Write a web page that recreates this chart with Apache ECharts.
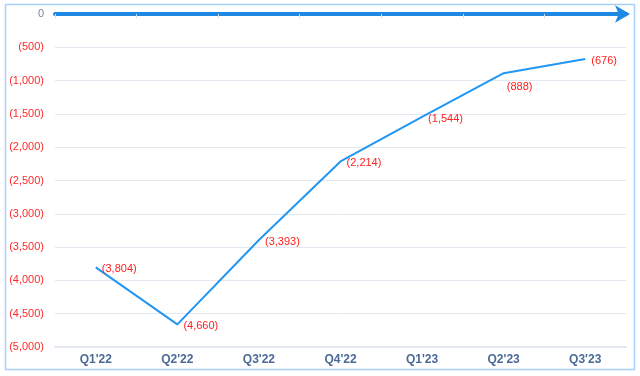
<!DOCTYPE html>
<html><head><meta charset="utf-8">
<script src="https://cdn.jsdelivr.net/npm/echarts@6/dist/echarts.min.js"></script>
<style>html,body{margin:0;padding:0;background:#fff}#c{width:640px;height:376px}</style>
</head><body><div id="c"></div>
<script>
const categories = ["Q1'22","Q2'22","Q3'22","Q4'22","Q1'23","Q2'23","Q3'23"];
const values = [-3804,-4660,-3393,-2214,-1544,-888,-676];
const yTicks = {min:-5000, max:0, interval:500};

function fmt(v){
  if (v === 0) return '0';
  const s = Math.abs(v).toLocaleString('en-US');
  return v < 0 ? '(' + s + ')' : s;
}
const chart = echarts.init(document.getElementById('c'), null, {renderer:'canvas'});
const font = '"Liberation Sans", Arial, sans-serif';
chart.setOption({
  animation:false,
  textStyle:{fontFamily:font},
  graphic:[{type:'rect', shape:{x:5.5,y:4.5,width:629,height:365}, style:{fill:'none', stroke:'#a6d0f5', lineWidth:1.5}, silent:true}],
  grid:{left:55, right:14, top:14, bottom:29},
  xAxis:[{
    type:'category', data:categories, position:'bottom',
    axisLine:{show:true, onZero:false, lineStyle:{color:'#e3e8f0', width:2}},
    axisTick:{show:false},
    axisLabel:{color:'#4b6a97', fontWeight:'bold', fontSize:12, margin:7, fontFamily:font}
  },{
    type:'category', data:categories, position:'top',
    axisLine:{show:true, onZero:false, symbol:['none','arrow'], symbolSize:[13,15], symbolOffset:[0,4], lineStyle:{color:'#1e88e5', width:4}},
    axisTick:{show:true, inside:true, length:4, lineStyle:{color:'#d5dde8'}},
    axisLabel:{show:false}
  }],
  yAxis:{
    type:'value', min:yTicks.min, max:yTicks.max, interval:yTicks.interval,
    axisLine:{show:false}, axisTick:{show:false},
    splitLine:{lineStyle:{color:'#e3e8f0', width:1}},
    axisLabel:{formatter:fmt, fontSize:11, margin:11, fontFamily:font,
      color:function(v){ return Number(v) === 0 ? '#7a8799' : '#ff2a2a'; }}
  },
  series:[{
    type:'line', data:values.map((v,i)=> i===5 ? {value:v, label:{position:'bottom', offset:[16,2]}} : v),
    xAxisIndex:0, showSymbol:true, symbol:'circle', symbolSize:0.1,
    itemStyle:{color:'#2196f3'},
    lineStyle:{color:'#2196f3', width:2},
    label:{show:true, position:'right', distance:6, offset:[0,2], color:'#ff2020', fontSize:11, fontFamily:font,
      formatter:function(p){ return fmt(p.value); }}
  }]
});
</script></body></html>
